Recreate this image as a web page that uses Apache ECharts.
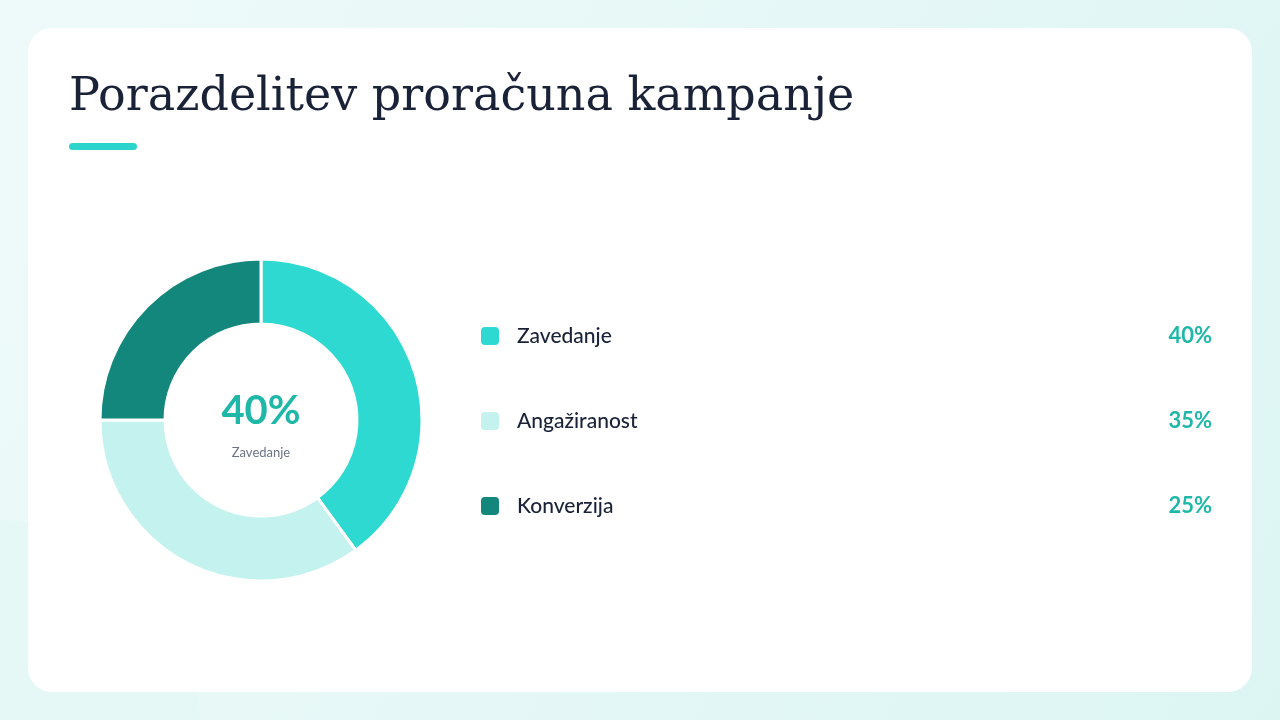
<!DOCTYPE html>
<html><head><meta charset="utf-8">
<script src="https://cdn.jsdelivr.net/npm/echarts@6/dist/echarts.min.js"></script>
<style>html,body{margin:0;padding:0;}#c{width:1280px;height:720px;}</style>
</head><body><div id="c"></div>
<script>
const categories = ['Zavedanje', 'Angažiranost', 'Konverzija'];
const values = [40, 35, 25];
const colors = ['#2dd9d0', '#c3f2ef', '#13877b'];
const chart = echarts.init(document.getElementById('c'));
const rowY = [336, 421, 506];
const legendEls = [];
categories.forEach((c, i) => {
  legendEls.push({type:'rect', shape:{x:481,y:rowY[i]-9,width:18,height:18,r:4}, style:{fill:colors[i]}});
  legendEls.push({type:'text', x:517, y:rowY[i], style:{text:c, fill:'#1a2238', font:'500 21px Lato', textVerticalAlign:'middle'}});
  legendEls.push({type:'text', x:1212, y:rowY[i], style:{text:values[i]+'%', fill:'#1fb8a8', font:'bold 22px Lato', textAlign:'right', textVerticalAlign:'middle'}});
});
chart.setOption({
  backgroundColor: {type:'linear',x:0,y:0,x2:1,y2:1,colorStops:[{offset:0,color:'#eefaf9'},{offset:1,color:'#dcf5f3'}]},
  graphic: [
    {type:'circle', shape:{cx:0,cy:720,r:200}, style:{fill:'#e6f8f6'}, z:-10},
    {type:'rect', shape:{x:28,y:28,width:1224,height:664,r:24}, style:{fill:'#ffffff'}, z:-5},
    {type:'text', x:69, y:98, style:{text:'Porazdelitev proračuna kampanje', fill:'#1a2238', font:'46px "DejaVu Serif"', textVerticalAlign:'middle'}},
    {type:'rect', shape:{x:69,y:143,width:68,height:7,r:3.5}, style:{fill:'#2dd4cc'}},
    {type:'text', x:261, y:411, style:{text:values[0]+'%', fill:'#1fb8a8', font:'bold 40px Lato', textAlign:'center', textVerticalAlign:'middle'}},
    {type:'text', x:261, y:453, style:{text:categories[0], fill:'#6b7385', font:'13px Lato', textAlign:'center', textVerticalAlign:'middle'}},
    ...legendEls
  ],
  series: [{
    type:'pie', center:[261,420], radius:[96,161], startAngle:90, clockwise:true,
    label:{show:false}, labelLine:{show:false}, silent:true,
    itemStyle:{borderColor:'#fff', borderWidth:3},
    data: categories.map((c,i)=>({name:c, value:values[i], itemStyle:{color:colors[i]}}))
  }]
});
</script></body></html>
